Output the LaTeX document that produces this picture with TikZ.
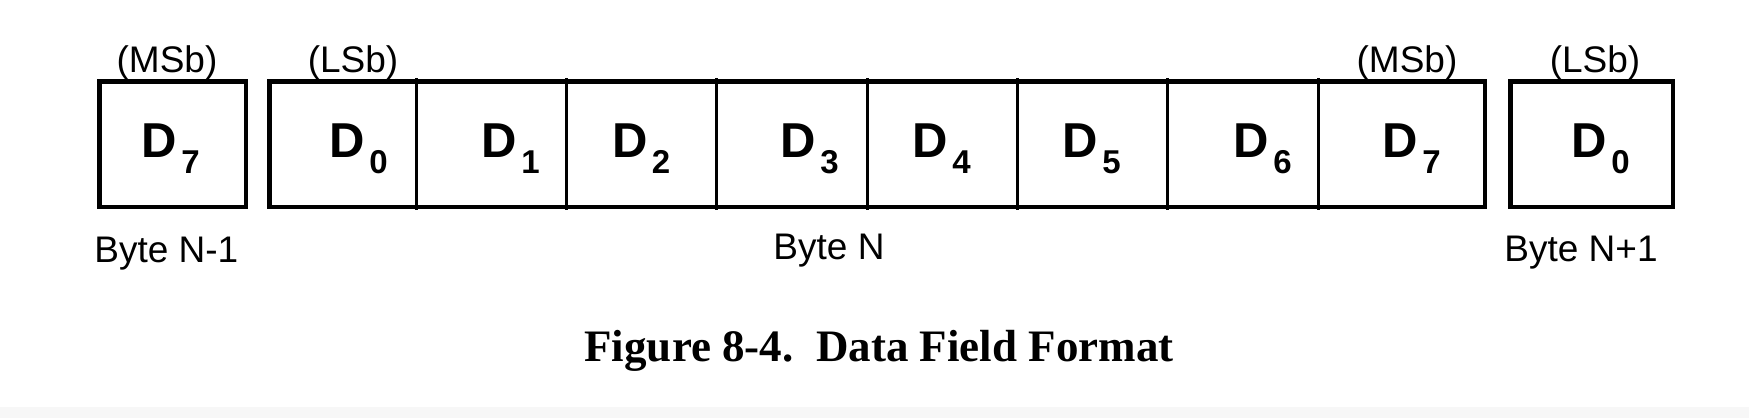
\documentclass[tikz,border=0pt]{standalone}
\usepackage{fontspec}
\setmainfont{Liberation Sans}
\newfontfamily\capfont{Liberation Serif}
\newcommand\dbit[1]{D\hspace{2pt}\raisebox{-8pt}{\fontsize{16.5}{18}\selectfont #1}}
\begin{document}
\begin{tikzpicture}[x=0.5pt,y=-0.5pt,
  outer/.style={draw=black,line width=2.25pt},
  divider/.style={draw=black,line width=1.5pt},
  bitlbl/.style={anchor=base west,inner sep=0pt,font=\bfseries\fontsize{24.5}{28}\selectfont},
  toplbl/.style={anchor=base,inner sep=0pt,font=\fontsize{18.5}{22}\selectfont},
  bytelbl/.style={anchor=base west,inner sep=0pt,font=\fontsize{18.5}{22}\selectfont},
  caplbl/.style={anchor=base,inner sep=0pt,font=\capfont\bfseries\fontsize{22.5}{27}\selectfont},
]
\useasboundingbox (0,0) rectangle (1749,418);
\fill[white] (0,0) rectangle (1749,418);
\fill[black!3] (0,407) rectangle (1749,418);
% boxes
\draw[outer] (99.25,81.25) rectangle (245.75,206.75);
\draw[outer] (269.25,81.25) rectangle (1484.75,206.75);
\draw[outer] (1510.25,81.25) rectangle (1672.75,206.75);
\foreach \xx in {416,566,716,867,1017,1167,1318}
  \draw[divider] (\xx,78) -- (\xx,210);
% bit labels
\node[bitlbl] (pD7) at (141.5,157) {\dbit{7}};
\node[bitlbl] (nD0) at (329.5,157) {\dbit{0}};
\node[bitlbl] (nD1) at (481.5,157) {\dbit{1}};
\node[bitlbl] (nD2) at (612,157) {\dbit{2}};
\node[bitlbl] (nD3) at (780.5,157) {\dbit{3}};
\node[bitlbl] (nD4) at (912.5,157) {\dbit{4}};
\node[bitlbl] (nD5) at (1062.5,157) {\dbit{5}};
\node[bitlbl] (nD6) at (1233.5,157) {\dbit{6}};
\node[bitlbl] (nD7) at (1382.5,157) {\dbit{7}};
\node[bitlbl] (xD0) at (1571.5,157) {\dbit{0}};
% top labels
\node[toplbl] (msb1) at (167,72) {(MSb)};
\node[toplbl] (lsb1) at (353,72) {(LSb)};
\node[toplbl] (msb2) at (1407,72) {(MSb)};
\node[toplbl] (lsb2) at (1595,72) {(LSb)};
% byte labels
\node[bytelbl] (byteprev) at (94,262) {Byte N-1};
\node[toplbl] (bytecur) at (829,259) {Byte N};
\node[bytelbl] (bytenext) at (1504,261) {Byte N+1};
% caption
\node[caplbl] (caption) at (879,361) {Figure 8-4.\ \ Data Field Format};
\end{tikzpicture}
\end{document}
